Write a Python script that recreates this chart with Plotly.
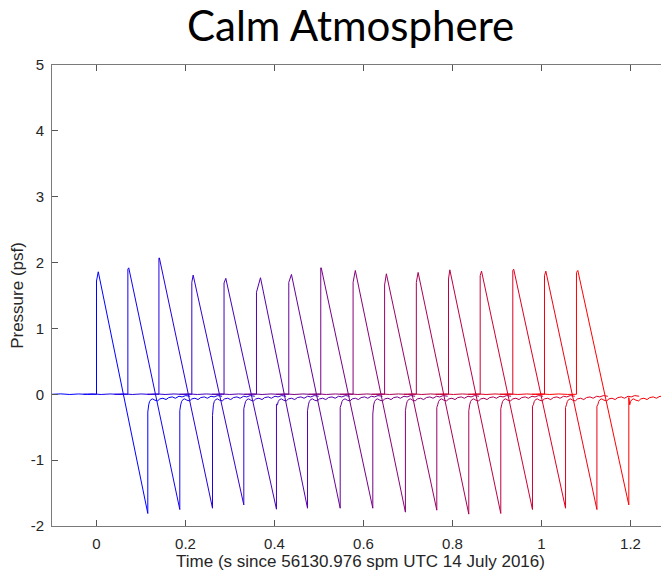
import plotly.graph_objects as go

# ---- data ----
# 16 N-wave signatures (time in s, pressure in psf)
t_rise = [0.0000, 0.0705, 0.1403, 0.2142, 0.2866, 0.3595, 0.4321, 0.5040,
          0.5766, 0.6474, 0.7187, 0.7910, 0.8622, 0.9355, 1.0067, 1.0786]
p_jump = [1.72, 1.90, 2.07, 1.70, 1.69, 1.55, 1.70, 1.92,
          1.70, 1.66, 1.70, 1.75, 1.80, 1.88, 1.80, 1.85]
peak_delay = [0.004, 0.002, 0.001, 0.003, 0.004, 0.009, 0.006, 0.001,
              0.005, 0.004, 0.004, 0.003, 0.003, 0.002, 0.003, 0.003]
p_peak = [1.86, 1.92, 2.07, 1.81, 1.76, 1.77, 1.82, 1.92,
          1.88, 1.83, 1.85, 1.89, 1.87, 1.90, 1.87, 1.88]
t_min = [0.1153, 0.1872, 0.2607, 0.3310, 0.4044, 0.4742, 0.5476, 0.6209,
         0.6942, 0.7647, 0.8366, 0.9085, 0.9797, 1.0540, 1.1245, 1.1962]
p_min = [-1.81, -1.75, -1.73, -1.68, -1.745, -1.73, -1.73, -1.73,
         -1.79, -1.76, -1.82, -1.81, -1.75, -1.73, -1.75, -1.68]
p_after = [-0.27, -0.25, -0.32, -0.22, -0.15, -0.25, -0.20, -0.30,
           -0.25, -0.20, -0.25, -0.22, -0.18, -0.20, -0.18, -0.05]

# small pre-shock baseline noise (offset from rise time, pressure)
pre_offsets = [-0.100, -0.080, -0.060, -0.040, -0.020, -0.008, 0.000]
pre_values = [0.000, 0.006, -0.003, 0.005, -0.002, 0.004, 0.000]

# post-shock recovery ripple (offset from rear shock time, pressure)
post_offsets = [0.002, 0.004, 0.007, 0.011, 0.016, 0.022, 0.027, 0.034,
                0.041, 0.047, 0.055, 0.062, 0.070, 0.077, 0.085, 0.095]
post_values = [-0.16, -0.11, -0.08, -0.07, -0.09, -0.10, -0.07, -0.06,
               -0.08, -0.05, -0.04, -0.06, -0.03, -0.04, -0.02, -0.03]

x_ticks = [0, 0.2, 0.4, 0.6, 0.8, 1.0, 1.2]
x_ticktext = ["0", "0.2", "0.4", "0.6", "0.8", "1", "1.2"]
y_ticks = [-2, -1, 0, 1, 2, 3, 4, 5]
y_ticktext = ["-2", "-1", "0", "1", "2", "3", "4", "5"]

# ---- figure ----
fig = go.Figure()
n = len(t_rise)
for i in range(n):
    f = i / (n - 1)
    color = "rgb(%d,0,%d)" % (round(255 * f), round(255 * (1 - f)))
    xs = [t_rise[i] + o for o in pre_offsets]
    ys = list(pre_values)
    xs += [t_rise[i], t_rise[i] + peak_delay[i], t_min[i], t_min[i]]
    ys += [p_jump[i], p_peak[i], p_min[i], p_after[i]]
    xs += [t_min[i] + o for o in post_offsets]
    ys += list(post_values)
    fig.add_trace(go.Scatter(x=xs, y=ys, mode="lines",
                             line=dict(color=color, width=1),
                             showlegend=False, hoverinfo="skip"))

# page body has an 8px margin, so the figure starts at (8, 8)
OFF = 8
W, H = 669 - OFF, 572 - OFF
L, R, T, B = 52 - OFF, 0, 65 - OFF, 46
fig.update_layout(
    width=W, height=H,
    margin=dict(l=L, r=R, t=T, b=B, pad=0),
    paper_bgcolor="white", plot_bgcolor="white",
    font=dict(family="Liberation Sans, Arial, sans-serif", size=15, color="#262626"),
    showlegend=False,
)
axis_common = dict(
    showgrid=False, zeroline=False, showline=True, linecolor="#7a7a7a",
    linewidth=1, ticks="inside", ticklen=6, tickcolor="#555555", tickwidth=1,
    tickfont=dict(family="Liberation Sans, Arial, sans-serif", size=15, color="#262626"),
)
fig.update_xaxes(range=[-0.1, 1.2865], tickmode="array", tickvals=x_ticks,
                 ticktext=x_ticktext, mirror="ticks", ticklabelstandoff=4,
                 title=dict(text="Time (s since 56130.976 spm UTC 14 July 2016)",
                            font=dict(size=17, color="#262626"), standoff=0),
                 **axis_common)
fig.update_yaxes(range=[-2, 5], tickmode="array", tickvals=y_ticks,
                 ticktext=y_ticktext, ticklabelstandoff=4,
                 title=dict(text="Pressure (psf)",
                            font=dict(size=17, color="#262626"), standoff=2),
                 **axis_common)

fig.add_annotation(text="Calm Atmosphere", xref="paper", yref="paper",
                   x=(350 - 52) / (W - L - R), y=1 + (65 - 25) / (H - T - B),
                   xanchor="center", yanchor="middle", showarrow=False,
                   font=dict(family="Lato, sans-serif", size=42, color="black"))

fig.write_html("out.html")
